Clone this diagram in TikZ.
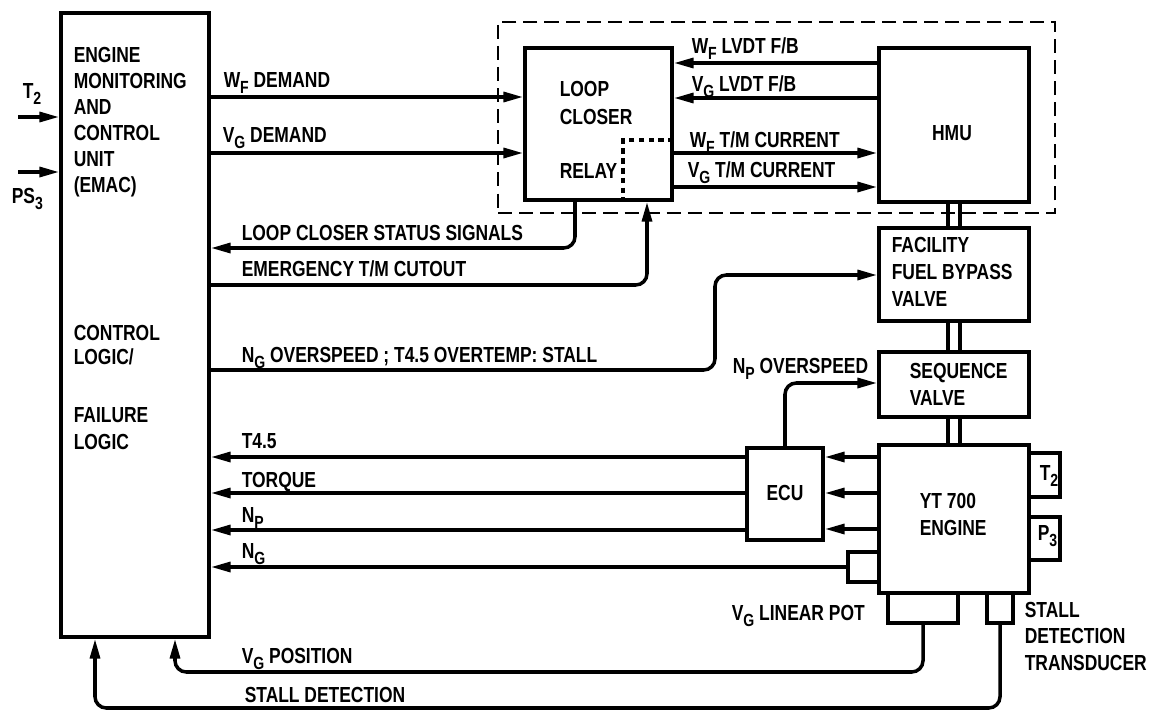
\documentclass[tikz,border=0pt]{standalone}
\usepackage{fontspec}
\setmainfont{Liberation Sans}[FakeStretch=0.8]
\usetikzlibrary{arrows.meta, fit}
\newcommand\lettering{\fontsize{15.5}{18}\selectfont\bfseries}
\newcommand\sbs[1]{\raisebox{-0.55ex}{\fontsize{12.5}{12}\selectfont #1}}
\tikzset{
  every picture/.style={line width=2.5pt},
  blk/.style={draw, line width=2.6pt, inner sep=0pt},
  sig/.style={-{Triangle[length=14pt, width=7pt]}, line width=2.5pt},
  pipe/.style={line width=2.5pt},
  tag/.style={font=\lettering, anchor=base west, inner sep=0pt},
  mid/.style={font=\lettering, inner sep=0pt},
}

\begin{document}
\begin{tikzpicture}[x=0.025cm, y=-0.025cm]
  \useasboundingbox (0,0) rectangle (1153,711);
  % blocks
  \node[blk, fit={(61,13) (209,637)}] (emac) {};
  \node[blk, fit={(525,48) (672,200)}] (loop) {};
  \node[blk, fit={(879,48) (1029,202)}] (hmu) {};
  \node[blk, fit={(879,228) (1029,321)}] (fbv) {};
  \node[blk, fit={(879,352) (1029,417)}] (seq) {};
  \node[blk, fit={(879,445) (1029,593)}] (eng) {};
  \node[blk, fit={(747,448) (823,540)}] (ecu) {};
  \node[blk, fit={(848,552) (879,582)}] (ngpk) {};
  \node[blk, fit={(888,593) (958,623)}] (vgpot) {};
  \node[blk, fit={(987,593) (1013,623)}] (sdt) {};
  \node[blk, fit={(1029,453) (1060,497)}] (t2) {};
  \node[blk, fit={(1029,517) (1060,560)}] (p3) {};
  \node[draw, dash pattern=on 10pt off 5pt, line width=1.8pt, inner sep=0pt,
        fit={(498,22) (1055,213)}] (hmuloop) {};
  \node[mid] (hmutxt) at (952,133) {HMU};
  \node[mid] (ecutxt) at (785,493) {ECU};

  % lettering inside the unit
  \foreach \t/\y [count=\i] in {ENGINE/62, MONITORING/88, AND/114, CONTROL/140, UNIT/166, (EMAC)/192}
    \node[tag] (em\i) at (72,\y) {\t};
  \foreach \t/\y [count=\i] in {CONTROL/340, {LOGIC/}/364, FAILURE/422, LOGIC/449}
    \node[tag] (lg\i) at (72,\y) {\t};

  % inputs
  \coordinate (tin) at (18,117);
  \coordinate (psin) at (18,172);
  \draw[sig] (tin) -- (emac.west |- tin);
  \draw[sig] (psin) -- (emac.west |- psin);

  % signal lines
  \foreach \y in {97,153} \draw[sig] (emac.east |- 0,\y) -- (loop.west |- 0,\y);
  \foreach \y in {63,98} \draw[sig] (hmu.west |- 0,\y) -- (loop.east |- 0,\y);
  \foreach \y in {153,187} \draw[sig] (loop.east |- 0,\y) -- (hmu.west |- 0,\y);
  \draw[line width=2.2pt, dash pattern=on 4pt off 3pt] (loop.east |- 0,140) -| (623,0 |- loop.south);
  \draw[sig, rounded corners=8pt] (575,0 |- loop.south) |- (emac.east |- 0,248);
  \draw[sig, rounded corners=8pt] (emac.east |- 0,285) -| (647,0 |- loop.south);
  \draw[sig, rounded corners=8pt] (emac.east |- 0,370) -| (715,275) -- (fbv.west |- 0,275);
  \draw[sig, rounded corners=8pt] (ecu.north) |- (seq.west |- 0,383);
  \foreach \x in {948,960}
    \draw[pipe] (\x,0 |- hmu.south) -- (\x,0 |- fbv.north) (\x,0 |- fbv.south) -- (\x,0 |- seq.north)
                (\x,0 |- seq.south) -- (\x,0 |- eng.north);
  \foreach \y in {457,493,529} \draw[sig] (eng.west |- 0,\y) -- (ecu.east |- 0,\y);
  \foreach \y in {457,493,530} \draw[sig] (ecu.west |- 0,\y) -- (emac.east |- 0,\y);
  \draw[sig] (ngpk.west) -- (emac.east |- ngpk.west);
  \draw[sig, rounded corners=8pt] (vgpot.south) |- (175,672) -- (175,0 |- emac.south);
  \draw[sig, rounded corners=8pt] (sdt.south) |- (95,708) -- (95,0 |- emac.south);

  % labels
  \foreach \n/\t/\x/\y in {tlbl/{T\sbs{2}}/21/98, pslbl/{PS\sbs{3}}/10/203,
      wfd/{W\sbs{F} DEMAND}/222/87, vgd/{V\sbs{G} DEMAND}/221/142,
      lc1/LOOP/558/96, lc2/CLOSER/558/124, rly/RELAY/558/178,
      wfl/{W\sbs{F} LVDT F/B}/690/53, vgl/{V\sbs{G} LVDT F/B}/690/91,
      wfc/{W\sbs{F} T/M CURRENT}/688/147, vgc/{V\sbs{G} T/M CURRENT}/686/177,
      sts/{LOOP CLOSER STATUS SIGNALS}/240/240, cut/{EMERGENCY T/M CUTOUT}/240/276,
      fb1/FACILITY/890/252, fb2/{FUEL BYPASS}/890/279, fb3/VALVE/890/306,
      ngo/{N\sbs{G} OVERSPEED ; T4.5 OVERTEMP: STALL}/240/362,
      npo/{N\sbs{P} OVERSPEED}/731/373,
      sq1/SEQUENCE/908/378, sq2/VALVE/908/405,
      en1/{YT 700}/918/508, en2/ENGINE/918/535,
      t2l/{T\sbs{2}}/1038/480, p3l/{P\sbs{3}}/1036/540,
      t45/{T4.5}/240/448, trq/TORQUE/240/487, npl/{N\sbs{P}}/240/522, ngl/{N\sbs{G}}/240/558,
      pot/{V\sbs{G} LINEAR POT}/730/620,
      sd1/STALL/1023/617, sd2/DETECTION/1023/643, sd3/TRANSDUCER/1023/670,
      vgp/{V\sbs{G} POSITION}/240/663, sdl/{STALL DETECTION}/243/702}
    \node[tag] (\n) at (\x,\y) {\t};
\end{tikzpicture}
\end{document}
